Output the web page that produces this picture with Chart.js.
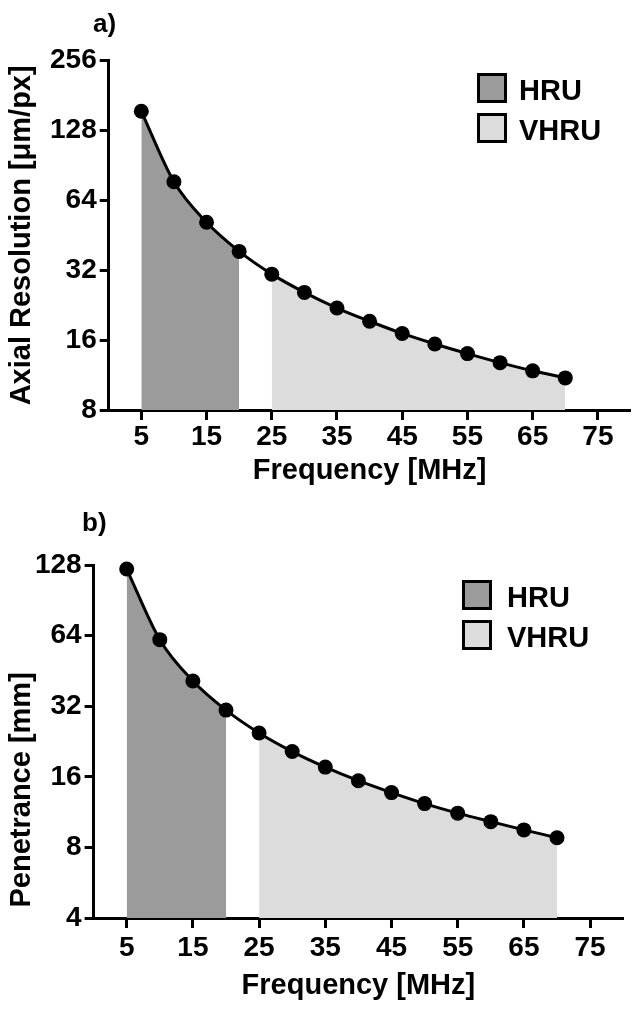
<!DOCTYPE html>
<html>
<head>
<meta charset="utf-8">
<script src="https://cdn.jsdelivr.net/npm/chart.js@4.4.1/dist/chart.umd.min.js"></script>
<style>
  html, body { margin:0; padding:0; background:#fff; }
  body { width:638px; height:1011px; position:relative; overflow:hidden; font-family:'Liberation Sans', Arial, sans-serif; }
  .wrap { position:absolute; left:0; width:638px; }
  .lbl { position:absolute; font-weight:bold; color:#000; white-space:nowrap; }
  .panel { font-size:26px; line-height:26px; }
  .sw { position:absolute; width:30px; height:30px; box-sizing:border-box; border:3px solid #000; }
  .lt { font-size:29px; line-height:29px; }
</style>
</head>
<body>
<div class="wrap" style="top:0;height:505px;"><canvas id="ca"></canvas></div>
<div class="wrap" style="top:505px;height:506px;"><canvas id="cb"></canvas></div>

<div class="lbl panel" style="left:93px;top:10px;">a)</div>
<div class="lbl panel" style="left:82px;top:509px;">b)</div>

<div class="sw" style="left:477px;top:73px;background:#9b9b9b;"></div>
<div class="lbl lt" style="left:519px;top:76px;">HRU</div>
<div class="sw" style="left:477px;top:113px;background:#dcdcdc;"></div>
<div class="lbl lt" style="left:519px;top:116px;">VHRU</div>

<div class="sw" style="left:462px;top:580px;background:#9b9b9b;"></div>
<div class="lbl lt" style="left:507px;top:583px;">HRU</div>
<div class="sw" style="left:462px;top:620px;background:#dcdcdc;"></div>
<div class="lbl lt" style="left:507px;top:623px;">VHRU</div>

<script>
// ---- data ----
const frequencies = [5, 10, 15, 20, 25, 30, 35, 40, 45, 50, 55, 60, 65, 70];
const axialResolution = [155, 77, 51.5, 38.6, 30.8, 25.7, 22, 19.3, 17.1, 15.4, 14, 12.8, 11.8, 11];
const penetrance = [123, 61.5, 41, 30.8, 24.6, 20.5, 17.6, 15.4, 13.7, 12.3, 11.2, 10.3, 9.5, 8.8];
const hruRange = [5, 20];
const vhruRange = [25, 70];
const xTicks = [5, 15, 25, 35, 45, 55, 65, 75];
const yTicksA = [8, 16, 32, 64, 128, 256];
const yTicksB = [4, 8, 16, 32, 64, 128];

const tickFont = { family: "'Liberation Sans Narrow', 'Liberation Sans', Arial, sans-serif", weight: 'bold', size: 28, lineHeight: 1 };
const titleFont = { family: "'Liberation Sans', Arial, sans-serif", weight: 'bold', size: 29, lineHeight: 1.2 };

function pts(vals, range) {
  const out = [];
  frequencies.forEach((f, i) => { if (f >= range[0] && f <= range[1]) out.push({ x: f, y: vals[i] }); });
  return out;
}

function makeChart(id, vals, yTicks, yTitle, geo) {
  const lineData = frequencies.map((f, i) => ({ x: f, y: vals[i] }));
  return new Chart(document.getElementById(id), {
    type: 'line',
    data: {
      datasets: [
        { label: 'curve', data: lineData, borderColor: '#000', borderWidth: 3, pointRadius: 7.5,
          pointBackgroundColor: '#000', pointBorderWidth: 0, cubicInterpolationMode: 'monotone',
          fill: false, clip: false },
        { label: 'HRU', data: pts(vals, hruRange), borderWidth: 0, pointRadius: 0,
          backgroundColor: '#9b9b9b', cubicInterpolationMode: 'monotone', fill: 'start' },
        { label: 'VHRU', data: pts(vals, vhruRange), borderWidth: 0, pointRadius: 0,
          backgroundColor: '#dcdcdc', cubicInterpolationMode: 'monotone', fill: 'start' }
      ]
    },
    options: {
      responsive: true, maintainAspectRatio: false, animation: false, devicePixelRatio: 1,
      layout: { padding: { left: 0, top: geo.top, right: geo.right, bottom: 0 } },
      plugins: { legend: { display: false }, tooltip: { enabled: false } },
      scales: {
        x: {
          type: 'linear', min: 0, max: 80,
          afterBuildTicks: s => { s.ticks = xTicks.map(v => ({ value: v })); },
          afterFit: s => { s.height = geo.xh; },
          ticks: { color: '#000', font: tickFont, padding: geo.xpad, maxRotation: 0, autoSkip: false,
                   callback: v => String(v) },
          grid: { display: true, drawOnChartArea: false, drawTicks: true, tickLength: 10, tickWidth: 3, tickColor: '#000', color: '#000' },
          border: { display: true, color: '#000', width: 3 },
          title: { display: true, text: 'Frequency [MHz]', color: '#000', font: titleFont,
                   padding: { top: 0, bottom: geo.xtpad } }
        },
        y: {
          type: 'logarithmic', min: yTicks[0], max: yTicks[yTicks.length - 1],
          afterBuildTicks: s => { s.ticks = yTicks.map(v => ({ value: v })); },
          afterFit: s => { s.width = geo.left; },
          ticks: { color: '#000', font: tickFont, padding: 3, autoSkip: false, callback: v => String(v) },
          grid: { display: true, drawOnChartArea: false, drawTicks: true, tickLength: 9, tickWidth: 3, tickColor: '#000', color: '#000' },
          border: { display: true, color: '#000', width: 3 },
          title: { display: true, text: yTitle, color: '#000', font: titleFont, padding: { top: 5, bottom: 0 } }
        }
      }
    }
  });
}

makeChart('ca', axialResolution, yTicksA, 'Axial Resolution [\u03bcm/px]',
  { top: 60.7, right: 1, left: 108.7, xh: 95, xpad: 3, xtpad: 17 });
makeChart('cb', penetrance, yTicksB, 'Penetrance [mm]' + '\u0020'.repeat(12),
  { top: 60, right: 14.8, left: 93.6, xh: 93, xpad: 6, xtpad: 8 });
</script>
</body>
</html>
